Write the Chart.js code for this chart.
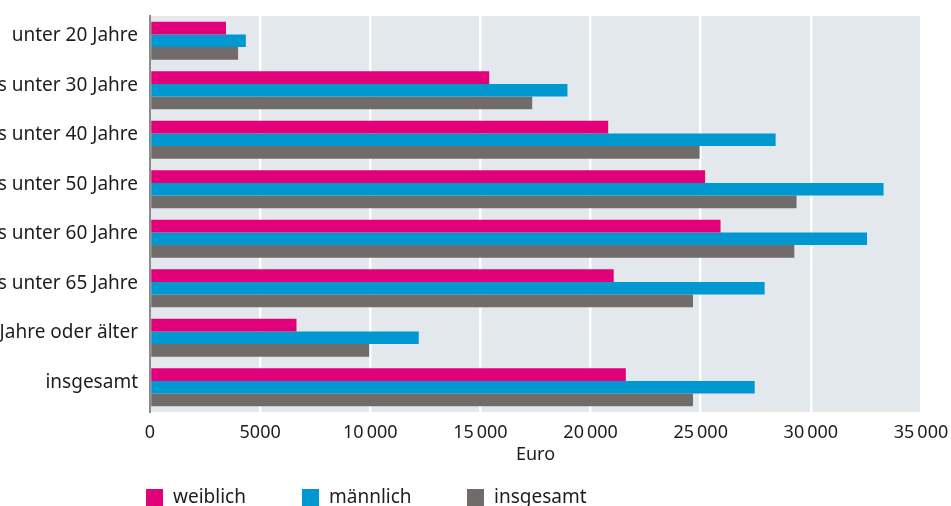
<!DOCTYPE html>
<html>
<head>
<meta charset="utf-8">
<script src="https://cdn.jsdelivr.net/npm/chart.js@4"></script>
<style>
  body { margin: 0; background: #fff; }
  #wrap { position: relative; width: 951px; height: 506px; overflow: hidden; }
  #legend { position: absolute; left: 0; top: 0; width: 951px; height: 506px; pointer-events: none;
            font-family: "Noto Sans", sans-serif; font-size: 19px; color: #1d1d1b; }
  .item { position: absolute; top: 484px; line-height: 24px; white-space: nowrap; }
  .box { position: absolute; top: 5px; left: 0; width: 17px; height: 17px; }
  .lbl { position: absolute; left: 27px; top: 0; }
</style>
</head>
<body>
<div id="wrap">
  <canvas id="myChart" width="951" height="506"></canvas>
  <div id="legend"></div>
</div>
<script>
let categories = ['unter 20 Jahre', '20 bis unter 30 Jahre', '30 bis unter 40 Jahre', '40 bis unter 50 Jahre',
                  '50 bis unter 60 Jahre', '60 bis unter 65 Jahre', '65 Jahre oder älter', 'insgesamt']
let weiblich = [3450, 15400, 20800, 25200, 25900, 21050, 6650, 21600]
let maennlich = [4350, 18950, 28400, 33300, 32550, 27900, 12200, 27450]
let insgesamt = [4000, 17350, 24950, 29350, 29250, 24650, 9950, 24650]
let seriesNames = ['weiblich', 'männlich', 'insgesamt']
let seriesColors = ['#e2007a', '#0098d1', '#716c69']

// grey plot background
const plotBg = {
    id: 'plotBg',
    beforeDraw(chart) {
        const a = chart.chartArea
        const ctx = chart.ctx
        ctx.save()
        ctx.fillStyle = '#e3e8ec'
        ctx.fillRect(a.left, a.top, a.right - a.left, a.bottom - a.top)
        ctx.restore()
    }
}

function fmt(v) {
    if (v >= 10000) return Math.floor(v / 1000) + '\u2009' + String(v % 1000).padStart(3, '0')
    return String(v)
}

function renderChart() {
    var ctx = document.getElementById('myChart').getContext('2d')
    var font = "'Noto Sans', sans-serif"
    new Chart(ctx, {
        type: 'bar',
        data: {
            labels: categories,
            datasets: [weiblich, maennlich, insgesamt].map((d, i) => ({
                label: seriesNames[i],
                backgroundColor: seriesColors[i],
                data: d,
                barPercentage: 1,
                categoryPercentage: 0.77
            }))
        },
        plugins: [plotBg],
        options: {
            indexAxis: 'y',
            responsive: false,
            animation: false,
            devicePixelRatio: 1,
            layout: { padding: { top: 16, right: 30, bottom: 40, left: 0 } },
            plugins: { legend: { display: false }, tooltip: { enabled: false } },
            scales: {
                x: {
                    min: 0,
                    max: 35000,
                    ticks: {
                        stepSize: 5000,
                        padding: 10,
                        color: '#1d1d1b',
                        font: { family: font, size: 18 },
                        callback: v => fmt(v)
                    },
                    grid: {
                        drawTicks: false,
                        lineWidth: 2.5,
                        color: c => c.index === 0 ? 'rgba(0,0,0,0)' : '#ffffff'
                    },
                    border: { display: false },
                    title: {
                        display: true,
                        text: 'Euro',
                        color: '#1d1d1b',
                        padding: 0,
                        font: { family: font, size: 18 }
                    },
                    afterFit: s => { s.height = 54; s.paddingLeft = 0; s.paddingRight = 0 }
                },
                y: {
                    ticks: {
                        padding: 12,
                        labelOffset: -5,
                        color: '#1d1d1b',
                        font: { family: font, size: 19 }
                    },
                    grid: { display: false, drawTicks: false },
                    border: { display: true, color: '#8c8c8c', width: 2 },
                    afterFit: s => { s.width = 150; s.paddingTop = 0; s.paddingBottom = 0 }
                }
            }
        }
    })
}

function renderLegend() {
    const lefts = [146, 302, 467]
    const el = document.getElementById('legend')
    seriesNames.forEach((n, i) => {
        const d = document.createElement('div')
        d.className = 'item'
        d.style.left = lefts[i] + 'px'
        d.innerHTML = '<span class="box" style="background:' + seriesColors[i] + '"></span><span class="lbl">' + n + '</span>'
        el.appendChild(d)
    })
}

renderChart()
renderLegend()
</script>
</body>
</html>
